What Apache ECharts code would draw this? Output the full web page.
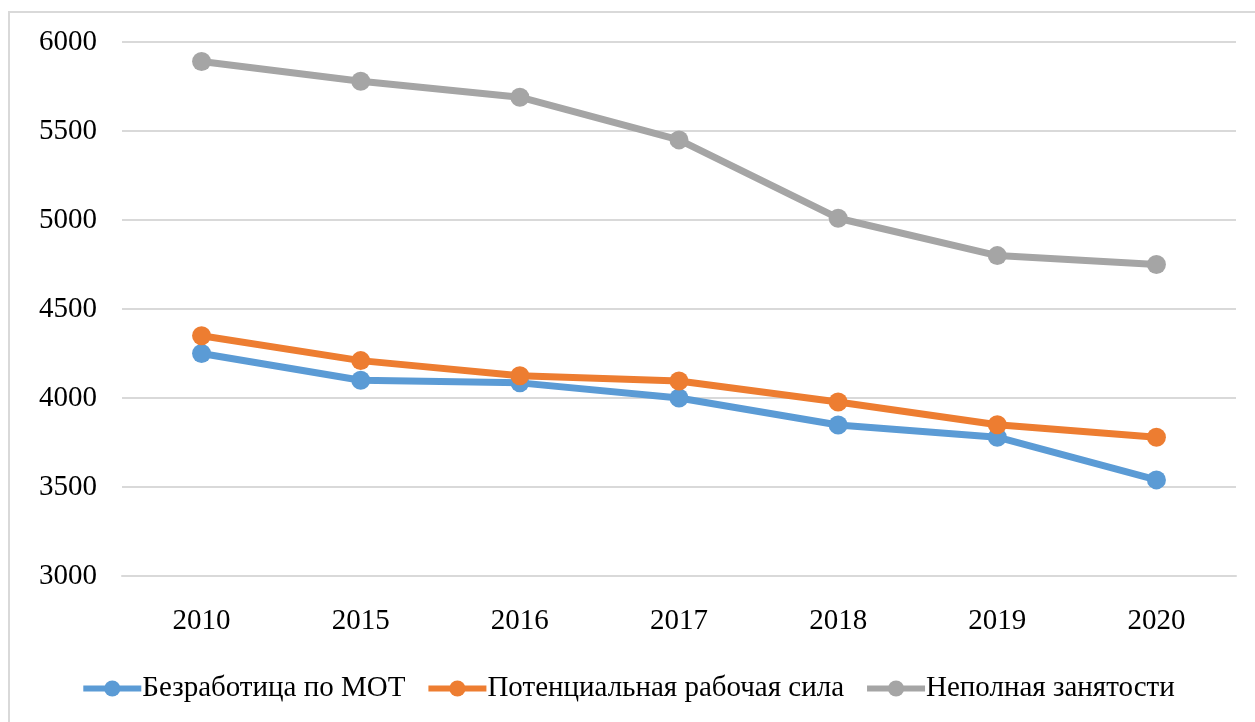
<!DOCTYPE html>
<html>
<head>
<meta charset="utf-8">
<script src="https://cdn.jsdelivr.net/npm/echarts@6/dist/echarts.min.js"></script>
<style>
  body { margin: 0; background: #fff; }
  #main { width: 1255px; height: 722px; }
</style>
</head>
<body>
<div id="main"></div>
<script>
const years = ['2010', '2015', '2016', '2017', '2018', '2019', '2020']
const unemploymentIlo = [4250, 4100, 4085, 4000, 3848, 3780, 3540]
const potentialLabor = [4350, 4210, 4125, 4095, 3978, 3850, 3780]
const underemployment = [5890, 5780, 5690, 5450, 5010, 4800, 4750]

const names = ['Безработица по МОТ', 'Потенциальная рабочая сила', 'Неполная занятости']
const colors = ['#5B9BD5', '#ED7D31', '#A5A5A5']
const font = 'Liberation Serif'

const myChart = echarts.init(document.getElementById('main'))

const makeLine = (name, data, color) => ({
    name,
    type: 'line',
    data,
    symbol: 'circle',
    symbolSize: 19,
    itemStyle: { color },
    lineStyle: { color, width: 7 },
    emphasis: { disabled: true }
})

const option = {
    animation: false,
    color: colors,
    textStyle: { fontFamily: font },
    // light frame round the chart area, cut by the right and bottom edges
    graphic: [{
        type: 'rect',
        shape: { x: 9, y: 12, width: 1260, height: 730 },
        style: { fill: 'none', stroke: '#d9d9d9', lineWidth: 2 },
        silent: true
    }],
    grid: { left: 122, right: 19, top: 42, bottom: 146 },
    legend: {
        bottom: 14,
        left: 'center',
        itemWidth: 58,
        itemHeight: 20,
        itemGap: 20,
        lineStyle: { width: 6 },
        textStyle: { fontFamily: font, fontSize: 29, color: '#000', padding: [0, 0, 0, -4] },
        data: names
    },
    xAxis: {
        type: 'category',
        data: years,
        axisLine: { lineStyle: { color: '#d9d9d9', width: 2 } },
        axisTick: { show: false },
        axisLabel: { fontFamily: font, fontSize: 29, color: '#000', margin: 31 }
    },
    yAxis: {
        type: 'value',
        min: 3000,
        max: 6000,
        interval: 500,
        axisLabel: {
            fontFamily: font, fontSize: 29, color: '#000', margin: 25,
            formatter: v => String(v)
        },
        splitLine: { lineStyle: { color: '#d9d9d9', width: 2 } }
    },
    series: [
        makeLine(names[0], unemploymentIlo, colors[0]),
        makeLine(names[1], potentialLabor, colors[1]),
        makeLine(names[2], underemployment, colors[2])
    ]
}

myChart.setOption(option)
</script>
</body>
</html>
